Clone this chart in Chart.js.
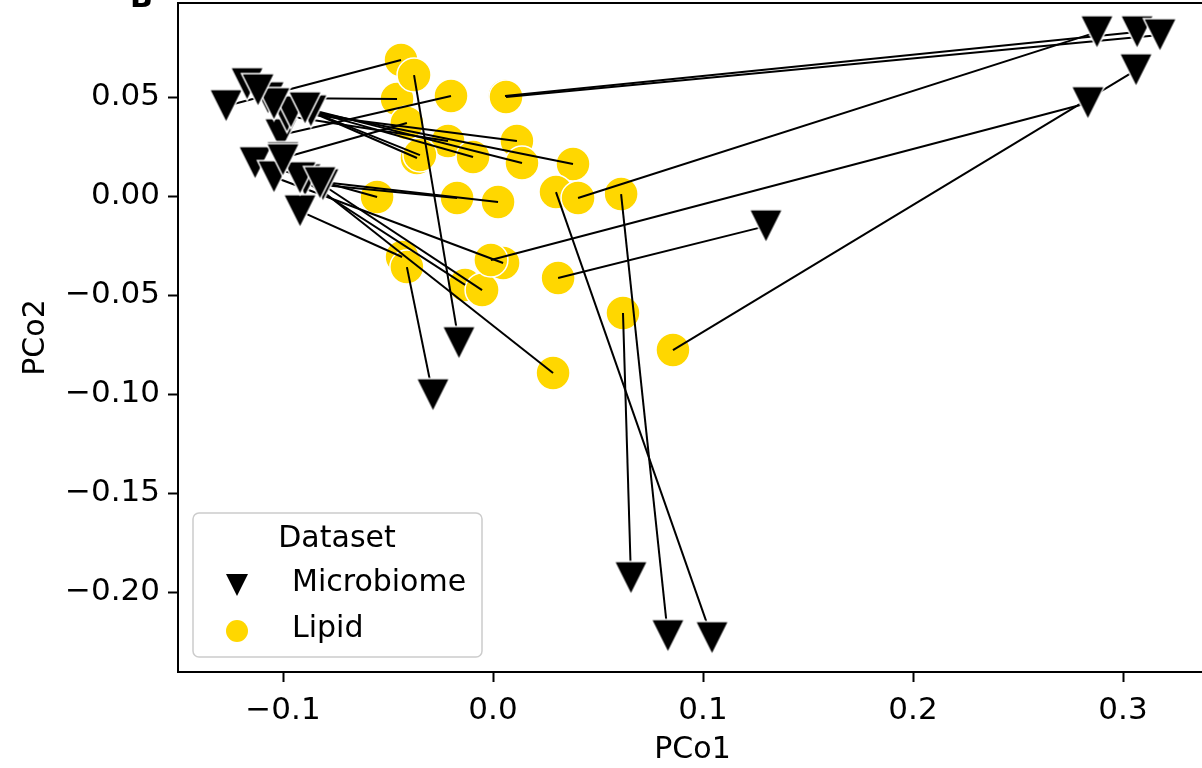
<!DOCTYPE html>
<html>
<head>
<meta charset="utf-8">
<script src="https://cdn.jsdelivr.net/npm/chart.js@4.4.0/dist/chart.umd.min.js"></script>
<style>
html, body { margin: 0; padding: 0; background: #fff; overflow: hidden; }
#wrap { width: 1210px; height: 768px; }
</style>
</head>
<body>
<div id="wrap"><canvas id="chart" width="1210" height="768"></canvas></div>
<script>
// each lipid sample is joined to its microbiome sample (same index)
const lipidX = [-0.0438, -0.0457, -0.0200, -0.0376, 0.0057, 0.0062, -0.0410, -0.0362, -0.0214, -0.0095,
                0.0114, 0.0138, 0.0381, -0.0552, -0.0171, 0.0024, -0.0433, 0.0048, -0.0133, -0.0052,
                0.0286, -0.0010, 0.0310, 0.0619, 0.0300, 0.0610, 0.0405, 0.0857, -0.0410, -0.0348];
const lipidY = [0.0687, 0.0490, 0.0505, 0.0611, 0.0505, 0.0500, 0.0369, 0.0192, 0.0278, 0.0197,
                0.0278, 0.0167, 0.0162, -0.0005, -0.0010, -0.0030, -0.0308, -0.0338, -0.0449, -0.0475,
                -0.0894, -0.0323, -0.0414, -0.0591, 0.0020, 0.0010, -0.0010, -0.0778, -0.0359, 0.0207];
const microX = [-0.1271, -0.1071, -0.1010, -0.0162, 0.3067, 0.3176, -0.1000, -0.1171, -0.0981, -0.0867,
                -0.0962, -0.0895, -0.1043, -0.1133, -0.0810, -0.0895, -0.0919, -0.1043, -0.0919, -0.0824,
                -0.1000, 0.2833, 0.1300, 0.0657, 0.1043, 0.0833, 0.2876, 0.3062, -0.0286, -0.1119];
const microY = [0.0455, 0.0495, 0.0308, -0.0742, 0.0828, 0.0813, 0.0192, 0.0566, 0.0404, 0.0429,
                0.0424, 0.0444, 0.0465, 0.0167, 0.0056, 0.0081, -0.0076, 0.0096, 0.0091, 0.0066,
                0.0182, 0.0470, -0.0152, -0.1929, -0.2232, -0.2222, 0.0828, 0.0636, -0.1005, 0.0535];

const xTickValues = [-0.1, 0.0, 0.1, 0.2, 0.3];
const xTickLabels = ['\u22120.1', '0.0', '0.1', '0.2', '0.3'];
const yTickValues = [0.05, 0.0, -0.05, -0.10, -0.15, -0.20];
const yTickLabels = ['0.05', '0.00', '\u22120.05', '\u22120.10', '\u22120.15', '\u22120.20'];
const seriesNames = ['Microbiome', 'Lipid'];

const GOLD = '#FFD700';
const FONT = 'DejaVu Sans';

Chart.defaults.font.family = FONT;
Chart.defaults.font.size = 31;
Chart.defaults.color = '#000';

// matplotlib style 'v' marker: as wide as it is tall
function makeTriangle(w, h, lw) {
    const pad = 4;
    const c = document.createElement('canvas');
    c.width = w + pad * 2;
    c.height = h + pad * 2;
    const g = c.getContext('2d');
    g.beginPath();
    g.moveTo(pad, pad);
    g.lineTo(pad + w, pad);
    g.lineTo(pad + w / 2, pad + h);
    g.closePath();
    g.fillStyle = '#000';
    g.fill();
    if (lw > 0) {
        g.strokeStyle = '#fff';
        g.lineWidth = lw;
        g.stroke();
    }
    return c;
}
const triMarker = makeTriangle(33, 33, 1.5);
const triLegend = makeTriangle(22, 22, 0);

const lipidPoints = lipidX.map((x, i) => ({ x: x, y: lipidY[i] }));
const microPoints = microX.map((x, i) => ({ x: x, y: microY[i] }));

const pairLines = lipidX.map((x, i) => ({
    data: [{ x: lipidX[i], y: lipidY[i] }, { x: microX[i], y: microY[i] }],
    showLine: true,
    borderColor: '#000',
    borderWidth: 2,
    pointRadius: 0,
    order: 2
}));

const framePlugin = {
    id: 'frame',
    afterDatasetsDraw(chart) {
        const a = chart.chartArea;
        const ctx = chart.ctx;
        ctx.save();
        ctx.strokeStyle = '#000';
        ctx.lineWidth = 2;
        ctx.beginPath();
        ctx.moveTo(a.right + 2, a.top);
        ctx.lineTo(a.left, a.top);
        ctx.lineTo(a.left, a.bottom);
        ctx.lineTo(a.right + 2, a.bottom);
        ctx.stroke();
        ctx.restore();
    }
};

const legendPlugin = {
    id: 'boxLegend',
    afterDraw(chart) {
        const ctx = chart.ctx;
        const x = 193, y = 513, w = 289, h = 144, r = 6;
        ctx.save();
        ctx.beginPath();
        ctx.roundRect(x, y, w, h, r);
        ctx.fillStyle = 'rgba(255,255,255,0.8)';
        ctx.fill();
        ctx.strokeStyle = '#cccccc';
        ctx.lineWidth = 1.5;
        ctx.stroke();

        ctx.fillStyle = '#000';
        ctx.font = '30px "' + FONT + '"';
        ctx.textBaseline = 'middle';
        ctx.textAlign = 'center';
        ctx.fillText('Dataset', 337, 539);

        ctx.textAlign = 'left';
        ctx.drawImage(triLegend, 237 - triLegend.width / 2, 585 - triLegend.height / 2);
        ctx.fillText(seriesNames[0], 292, 583);

        ctx.beginPath();
        ctx.arc(237, 631, 11, 0, Math.PI * 2);
        ctx.fillStyle = GOLD;
        ctx.fill();
        ctx.fillStyle = '#000';
        ctx.fillText(seriesNames[1], 292, 629);

        // panel letter, cut off at the top
        ctx.font = 'bold 30px "' + FONT + '"';
        ctx.textBaseline = 'alphabetic';
        ctx.fillText('B', 130, 7);
        ctx.restore();
    }
};

new Chart(document.getElementById('chart'), {
    type: 'scatter',
    data: {
        datasets: [
            {
                label: seriesNames[1],
                data: lipidPoints,
                pointStyle: 'circle',
                pointRadius: 17,
                backgroundColor: GOLD,
                borderColor: '#fff',
                borderWidth: 1.5,
                order: 3
            },
            ...pairLines,
            {
                label: seriesNames[0],
                data: microPoints,
                pointStyle: triMarker,
                order: 1
            }
        ]
    },
    options: {
        responsive: false,
        animation: false,
        devicePixelRatio: 1,
        layout: { autoPadding: false, padding: { top: 3, right: 3, left: 0, bottom: 0 } },
        plugins: {
            legend: { display: false },
            tooltip: { enabled: false }
        },
        scales: {
            x: {
                type: 'linear',
                min: -0.15,
                max: 0.34,
                grid: { drawOnChartArea: false, drawTicks: true, tickLength: 10, tickWidth: 2, tickColor: '#000' },
                border: { display: false },
                afterBuildTicks: (scale) => { scale.ticks = xTickValues.map(v => ({ value: v })); },
                afterFit: (scale) => { scale.height = 96; scale.paddingLeft = 0; scale.paddingRight = 0; },
                ticks: {
                    padding: 10,
                    autoSkip: false,
                    maxRotation: 0,
                    callback: (value, index) => xTickLabels[index]
                },
                title: { display: true, text: 'PCo1', font: { size: 30 }, padding: { top: 1, bottom: 0 } }
            },
            y: {
                type: 'linear',
                min: -0.2404,
                max: 0.0975,
                grid: { drawOnChartArea: false, drawTicks: true, tickLength: 10, tickWidth: 2, tickColor: '#000' },
                border: { display: false },
                afterBuildTicks: (scale) => { scale.ticks = yTickValues.map(v => ({ value: v })); },
                afterFit: (scale) => { scale.width = 178; scale.paddingTop = 0; scale.paddingBottom = 0; },
                ticks: {
                    padding: 8,
                    autoSkip: false,
                    callback: (value, index) => yTickLabels[index]
                },
                title: { display: true, text: 'PCo2', font: { size: 30 }, padding: { top: 18, bottom: 0 } }
            }
        }
    },
    plugins: [framePlugin, legendPlugin]
});
</script>
</body>
</html>
